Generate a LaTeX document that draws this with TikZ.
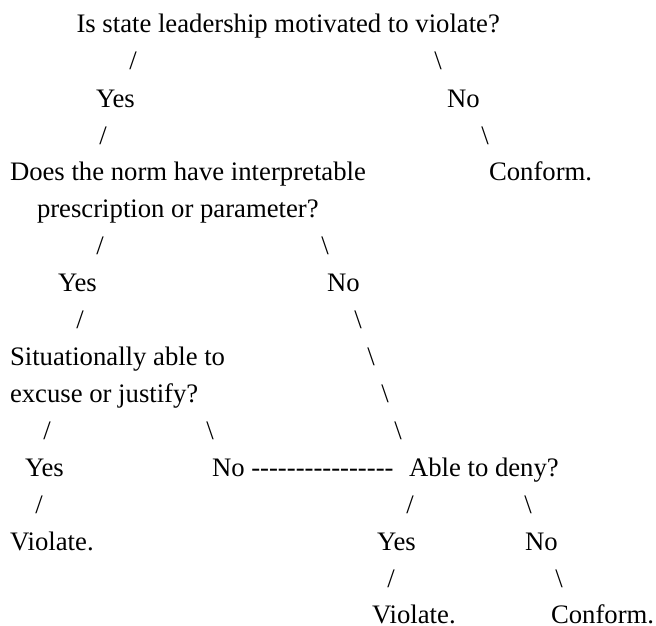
\documentclass[tikz,border=0pt]{standalone}
\usepackage{fontspec}
\newfontfamily\tf{Liberation Serif}
\newcommand\hy{-\kern0pt}
\tikzset{
  txt/.style={anchor=base west, inner sep=0pt, outer sep=0pt, font=\tf\fontsize{26.7}{32}\selectfont},
  sl/.style={anchor=base, inner sep=0pt, outer sep=0pt, font=\tf\fontsize{26.7}{32}\selectfont},
  flat/.style={text depth=0pt}
}
\begin{document}
\begin{tikzpicture}[x=1pt,y=-1pt]
\useasboundingbox (0,0) rectangle (656,626);
% row 1
\node[txt] (q1) at (76.5,33) {Is state leadership motivated to violate?};
% row 2
\node[sl] (s2a) at (133,70) {/};
\node[sl] (s2b) at (438,70) {\textbackslash};
% row 3
\node[txt] (y1) at (96,107) {Yes};
\node[txt] (n1) at (447,107) {No};
% row 4
\node[sl] (s4a) at (103,144) {/};
\node[sl] (s4b) at (485,144) {\textbackslash};
% row 5
\node[txt] (q2) at (10,180.5) {Does the norm have interpretable};
\node[txt] (c1) at (489,180.5) {Conform.};
% row 6
\node[txt] (q2b) at (37,217.5) {prescription or parameter?};
% row 7
\node[sl] (s7a) at (100,254.5) {/};
\node[sl] (s7b) at (325,254.5) {\textbackslash};
% row 8
\node[txt] (y2) at (58,291.5) {Yes};
\node[txt] (n2) at (327,291.5) {No};
% row 9
\node[sl] (s9a) at (80,328) {/};
\node[sl] (s9b) at (358,328) {\textbackslash};
% row 10
\node[txt] (q3) at (10,365) {Situationally able to};
\node[sl] (s10) at (371,365) {\textbackslash};
% row 11
\node[txt] (q3b) at (10,402) {excuse or justify?};
\node[sl] (s11) at (385,402) {\textbackslash};
% row 12
\node[sl] (s12a) at (47,439) {/};
\node[sl] (s12b) at (210,439) {\textbackslash};
\node[sl] (s12c) at (398,439) {\textbackslash};
% row 13
\node[txt] (y3) at (25,476) {Yes};
\node[txt] (n3) at (212,476) {No \hy\hy\hy\hy\hy\hy\hy\hy\hy\hy\hy\hy\hy\hy\hy\hy};
\node[txt] (q4) at (409,476) {Able to deny?};
% row 14
\node[sl] (s14a) at (39,513) {/};
\node[sl] (s14b) at (410,513) {/};
\node[sl] (s14c) at (528,513) {\textbackslash};
% row 15
\node[txt] (v1) at (10,550) {Violate.};
\node[txt] (y4) at (377,550) {Yes};
\node[txt] (n4) at (525,550) {No};
% row 16
\node[sl] (s16a) at (391,587) {/};
\node[sl] (s16b) at (559,587) {\textbackslash};
% row 17
\node[txt,flat] (v2) at (372,623.5) {Violate.};
\node[txt,flat] (c2) at (551,623.5) {Conform.};
\end{tikzpicture}
\end{document}
